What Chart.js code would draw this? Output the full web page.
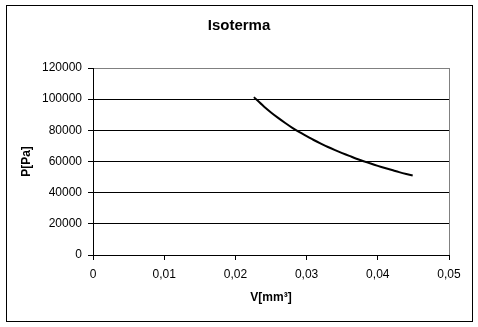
<!DOCTYPE html>
<html>
<head>
<meta charset="utf-8">
<script src="https://cdn.jsdelivr.net/npm/chart.js@4/dist/chart.umd.min.js"></script>
<style>
  html, body { margin: 0; padding: 0; background: #fff; }
  #wrap { position: relative; width: 478px; height: 327px; }
</style>
</head>
<body>
<div id="wrap"><canvas id="chart" width="478" height="327"></canvas></div>
<script>
// Isotherm readings (volume in mm^3, pressure in Pa)
const volumes = [0.0226, 0.024, 0.025, 0.026, 0.027, 0.028, 0.029, 0.030, 0.031, 0.032, 0.033, 0.034,
                 0.035, 0.036, 0.037, 0.038, 0.039, 0.040, 0.041, 0.042, 0.043, 0.044, 0.0449];
const pressures = [101300, 95300, 91500, 88000, 84700, 81600, 78800, 76300, 73800, 71500, 69300, 67300,
                   65400, 63600, 61800, 60200, 58700, 57200, 55800, 54500, 53200, 52000, 51000];
const xTicks = [0, 0.01, 0.02, 0.03, 0.04, 0.05];
const yTicks = [0, 20000, 40000, 60000, 80000, 100000, 120000];

Chart.defaults.font.family = "'Liberation Sans', Arial, sans-serif";
Chart.defaults.color = '#000';

// outer frame around the whole chart
const framePlugin = {
    id: 'frame',
    beforeDraw(chart) {
        const ctx = chart.ctx;
        ctx.save();
        ctx.fillStyle = '#fff';
        ctx.fillRect(0, 0, chart.width, chart.height);
        ctx.strokeStyle = '#000';
        ctx.lineWidth = 1;
        ctx.strokeRect(6.5, 5.5, 466, 316);
        ctx.restore();
    }
};

new Chart(document.getElementById('chart'), {
    type: 'line',
    data: {
        datasets: [{
            data: volumes.map((v, i) => ({ x: v, y: pressures[i] })),
            borderColor: '#000',
            borderWidth: 2,
            pointRadius: 0,
            tension: 0.3,
            fill: false
        }]
    },
    options: {
        responsive: false,
        animation: false,
        layout: { padding: { top: 0, left: 29, right: 29, bottom: 15 } },
        plugins: {
            legend: { display: false },
            tooltip: { enabled: false },
            title: {
                display: true,
                text: 'Isoterma',
                color: '#000',
                font: { size: 15, weight: 'bold' },
                padding: { top: 17, bottom: 33 }
            }
        },
        scales: {
            x: {
                type: 'linear',
                min: xTicks[0],
                max: xTicks[xTicks.length - 1],
                afterBuildTicks(axis) { axis.ticks = xTicks.map(v => ({ value: v })); },
                afterFit(axis) { axis.height = 57; },
                border: { display: true, color: '#000', width: 1 },
                grid: {
                    drawOnChartArea: true,
                    color: c => (c.tick && c.tick.value === 0.05) ? '#808080' : 'rgba(0,0,0,0)',
                    tickColor: '#000',
                    tickLength: 5
                },
                ticks: {
                    color: '#000',
                    font: { size: 12 },
                    padding: 7,
                    maxRotation: 0,
                    callback: v => v === 0 ? '0' : v.toFixed(2).replace('.', ',')
                },
                title: {
                    display: true,
                    text: 'V[mm³]',
                    color: '#000',
                    font: { size: 12, weight: 'bold' },
                    padding: { top: 0, bottom: 7 }
                }
            },
            y: {
                min: yTicks[0],
                max: yTicks[yTicks.length - 1],
                afterBuildTicks(axis) { axis.ticks = yTicks.map(v => ({ value: v })); },
                afterFit(axis) { axis.width = 64; },
                border: { display: true, color: '#000', width: 1 },
                grid: {
                    color: c => (c.tick && c.tick.value === 120000) ? '#808080' : '#000',
                    tickColor: '#000',
                    tickLength: 5
                },
                ticks: {
                    color: '#000',
                    font: { size: 12 },
                    padding: 6,
                    callback: v => String(v)
                },
                title: {
                    display: true,
                    text: 'P[Pa]',
                    color: '#000',
                    font: { size: 12, weight: 'bold' },
                    // title sits left of the scale box, hence the negative offset
                    padding: { top: -10, bottom: 0 }
                }
            }
        }
    },
    plugins: [framePlugin]
});
</script>
</body>
</html>
